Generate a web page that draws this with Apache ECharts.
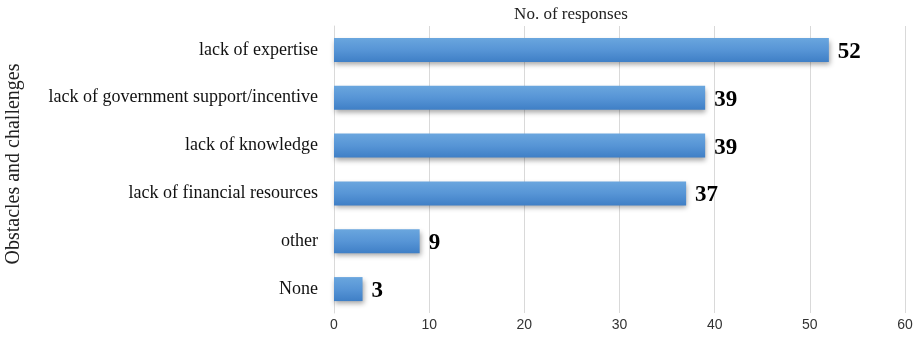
<!DOCTYPE html>
<html>
<head>
<meta charset="utf-8">
<script src="https://cdn.jsdelivr.net/npm/echarts@6/dist/echarts.min.js"></script>
<style>
  html, body { margin: 0; padding: 0; background: #fff; }
  #chart { width: 918px; height: 352px; }
</style>
</head>
<body>
<div id="chart"></div>
<script>
// Categories listed bottom-to-top (category axis starts at the bottom)
const categories = [
  'None',
  'other',
  'lack of financial resources',
  'lack of knowledge',
  'lack of government support/incentive',
  'lack of expertise'
];
const responses = [3, 9, 37, 39, 39, 52];
const xTicks = { min: 0, max: 60, interval: 10 };
const xTitle = 'No. of responses';
const yTitle = 'Obstacles and challenges';

const chart = echarts.init(document.getElementById('chart'));

chart.setOption({
  animation: false,
  backgroundColor: '#ffffff',
  title: {
    text: xTitle,
    left: 566,
    top: 1,
    textAlign: 'center',
    textStyle: {
      fontFamily: 'Liberation Serif',
      fontSize: 17,
      fontWeight: 'normal',
      color: '#222'
    }
  },
  graphic: [{
    type: 'text',
    x: 14,
    y: 164,
    rotation: Math.PI / 2,
    style: {
      text: yTitle,
      fontFamily: 'Liberation Serif',
      fontSize: 20,
      fill: '#222',
      align: 'center',
      verticalAlign: 'middle'
    }
  }],
  grid: { left: 334, right: 13, top: 26, bottom: 39, outerBoundsMode: 'none', containLabel: false },
  xAxis: {
    type: 'value',
    min: xTicks.min,
    max: xTicks.max,
    interval: xTicks.interval,
    axisLine: { show: false },
    axisTick: { show: false },
    axisLabel: {
      fontFamily: 'Liberation Sans',
      fontSize: 14,
      color: '#333',
      margin: 5
    },
    splitLine: { lineStyle: { color: '#d9d9d9', width: 1 } }
  },
  yAxis: {
    type: 'category',
    data: categories,
    axisLine: { show: true, lineStyle: { color: '#d9d9d9' } },
    axisTick: { show: false },
    axisLabel: {
      fontFamily: 'Liberation Serif',
      fontSize: 18,
      color: '#111',
      margin: 16
    }
  },
  series: [{
    type: 'bar',
    data: responses,
    barWidth: 24,
    itemStyle: {
      color: new echarts.graphic.LinearGradient(0, 0, 0, 1, [
        { offset: 0, color: '#6aa6de' },
        { offset: 0.5, color: '#5795d6' },
        { offset: 1, color: '#3f7fc6' }
      ]),
      shadowColor: 'rgba(0,0,0,0.35)',
      shadowBlur: 5,
      shadowOffsetX: 1,
      shadowOffsetY: 3
    },
    label: {
      show: true,
      position: 'right',
      distance: 9,
      fontFamily: 'Liberation Serif',
      fontSize: 23,
      fontWeight: 'bold',
      color: '#000',
      offset: [0, 2]
    }
  }]
});
</script>
</body>
</html>
